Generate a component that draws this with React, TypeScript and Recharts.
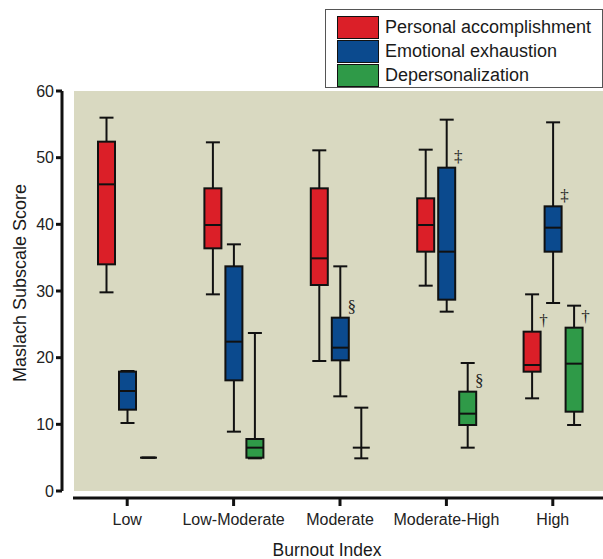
import React from "react";
import {
  ComposedChart,
  Bar,
  XAxis,
  YAxis,
  Legend,
  ReferenceArea,
  ReferenceLine,
  Label,
} from "recharts";

const categories = ["Low", "Low-Moderate", "Moderate", "Moderate-High", "High"];

// each entry: [min, q1, median, q3, max]
const personalAccomplishment = [
  [29.8, 34, 46, 52.4, 56],
  [29.5, 36.4, 39.9, 45.4, 52.3],
  [19.5, 30.9, 34.9, 45.4, 51.1],
  [30.8, 35.9, 39.9, 43.9, 51.2],
  [13.9, 17.9, 18.9, 23.9, 29.5],
];
const emotionalExhaustion = [
  [10.2, 12.2, 15, 17.9, 18],
  [8.9, 16.6, 22.4, 33.7, 37],
  [14.2, 19.6, 21.5, 26, 33.7],
  [26.9, 28.7, 35.9, 48.5, 55.7],
  [28.2, 35.9, 39.5, 42.7, 55.3],
];
const depersonalization = [
  [5, 5, 5, 5, 5],
  [4.9, 5, 6.5, 7.8, 23.7],
  [4.9, 6.5, 6.5, 6.5, 12.5],
  [6.5, 9.9, 11.6, 14.9, 19.2],
  [9.9, 11.9, 19.1, 24.5, 27.8],
];

const paMarks = ["", "", "", "", "†"];
const eeMarks = ["", "", "§", "‡", "‡"];
const dpMarks = ["", "", "", "§", "†"];

const yTicks = [0, 10, 20, 30, 40, 50, 60];

const font = '"Liberation Sans", Arial, sans-serif';
const ink = "#111";

const series = [
  { key: "pa", name: "Personal accomplishment", color: "#db1f28", boxes: personalAccomplishment, marks: paMarks },
  { key: "ee", name: "Emotional exhaustion", color: "#0b4a8e", boxes: emotionalExhaustion, marks: eeMarks },
  { key: "dp", name: "Depersonalization", color: "#2f9a48", boxes: depersonalization, marks: dpMarks },
];

const data = categories.map((name, i) => {
  const row: any = { name };
  series.forEach((s) => {
    row[s.key] = s.boxes[i][4];
    row[s.key + "Box"] = s.boxes[i];
    row[s.key + "Mark"] = s.marks[i];
  });
  return row;
});

// bar runs from 0 to max, so the box parts are placed along it
function BoxShape(props: any) {
  const { x, y, width, height, payload, boxKey, fill } = props;
  const [min, q1, med, q3, max] = payload[boxKey + "Box"];
  const mark = payload[boxKey + "Mark"];
  const base = y + height;
  const py = (v: number) => base - (height * v) / max;
  const cx = x + width / 2;
  const cap = 7;
  const top = py(q3);
  const bottom = py(q1);
  return (
    <g>
      <line x1={cx} x2={cx} y1={py(max)} y2={py(min)} stroke={ink} strokeWidth={2} />
      <line x1={cx - cap} x2={cx + cap} y1={py(max)} y2={py(max)} stroke={ink} strokeWidth={2} />
      <line x1={cx - cap} x2={cx + cap} y1={py(min)} y2={py(min)} stroke={ink} strokeWidth={2} />
      <rect x={x} y={top} width={width} height={bottom - top} fill={fill} stroke={ink} strokeWidth={2} />
      <line x1={x} x2={x + width} y1={py(med)} y2={py(med)} stroke={ink} strokeWidth={2} />
      {mark && (
        <text
          x={x + width + 3}
          y={top - 11}
          textAnchor="middle"
          dominantBaseline="central"
          fontFamily='"Liberation Serif", "Times New Roman", serif'
          fontSize={17}
          fill="#222"
        >
          {mark}
        </text>
      )}
    </g>
  );
}

function XTick(props: any) {
  const { x, y, payload } = props;
  return (
    <g>
      <line x1={x} x2={x} y1={y + 7} y2={y + 15} stroke={ink} strokeWidth={3} />
      <text x={x} y={y + 34} textAnchor="middle" fontFamily={font} fontSize={16} fill="#222">
        {payload.value}
      </text>
    </g>
  );
}

function renderLegend(props: any) {
  const order = series.map((s) => s.name);
  const items = [...(props.payload || [])].sort(
    (a: any, b: any) => order.indexOf(a.value) - order.indexOf(b.value)
  );
  return (
    <div
      style={{
        border: "1px solid #555",
        background: "#fff",
        boxSizing: "border-box",
        height: 79,
        padding: "5px 0 0 11px",
        fontFamily: font,
        fontSize: 18,
        color: "#1a1a1a",
      }}
    >
      {items.map((e: any) => (
        <div key={e.value} style={{ display: "flex", alignItems: "center", height: 24 }}>
          <span
            style={{
              display: "inline-block",
              width: 42,
              height: 23,
              background: e.color,
              border: "1.5px solid #111",
              boxSizing: "border-box",
              marginRight: 6,
            }}
          />
          <span style={{ lineHeight: "20px" }}>{e.value}</span>
        </div>
      ))}
    </div>
  );
}

export default function App() {
  return (
    <div
      style={{
        position: "absolute",
        left: 0,
        top: 0,
        width: 603,
        height: 559,
        overflow: "hidden",
        background: "#fff",
      }}
    >
      <ComposedChart
        width={606}
        height={559}
        data={data}
        margin={{ top: 91, right: 0, bottom: 0, left: 0 }}
        barSize={17}
        barGap={4}
      >
        <ReferenceArea x1="Low" x2="High" fill="#d9d9c1" fillOpacity={1} stroke="none" />
        <XAxis
          dataKey="name"
          height={68}
          padding={{ left: 12, right: 0 }}
          axisLine={false}
          tickLine={false}
          tickSize={0}
          tickMargin={0}
          interval={0}
          tick={(p: any) => <XTick {...p} />}
        >
          <Label
            content={(p: any) => {
              const vb = p.viewBox;
              return (
                <text
                  x={vb.x + vb.width / 2 - 7}
                  y={vb.y + 65}
                  textAnchor="middle"
                  fontFamily={font}
                  fontSize={17.5}
                  fill="#1a1a1a"
                >
                  Burnout Index
                </text>
              );
            }}
          />
        </XAxis>
        <YAxis
          width={62}
          domain={[0, 60]}
          ticks={yTicks}
          interval={0}
          axisLine={{ stroke: ink, strokeWidth: 3 }}
          tickLine={{ stroke: ink, strokeWidth: 3 }}
          tickSize={6}
          tickMargin={2}
          tick={{ fontFamily: font, fontSize: 16, fill: "#222" }}
        >
          <Label
            content={(p: any) => {
              const vb = p.viewBox;
              const cx = vb.x + 20;
              const cy = vb.y + vb.height / 2 - 8;
              return (
                <text
                  x={cx}
                  y={cy}
                  transform={`rotate(-90, ${cx}, ${cy})`}
                  textAnchor="middle"
                  dominantBaseline="central"
                  fontFamily={font}
                  fontSize={18}
                  fill="#1a1a1a"
                >
                  Maslach Subscale Score
                </text>
              );
            }}
          />
        </YAxis>
        <ReferenceLine
          y={0}
          shape={(p: any) => (
            <line x1={p.x1 + 11} x2={p.x2} y1={p.y1 + 7} y2={p.y2 + 7} stroke={ink} strokeWidth={3} />
          )}
        />
        {series.map((s) => (
          <Bar
            key={s.key}
            dataKey={s.key}
            name={s.name}
            fill={s.color}
            isAnimationActive={false}
            shape={(p: any) => <BoxShape {...p} boxKey={s.key} fill={s.color} />}
          />
        ))}
        <Legend
          layout="horizontal"
          verticalAlign="middle"
          align="center"
          wrapperStyle={{ left: 325, top: 9, width: 278, height: 79 }}
          content={renderLegend}
        />
      </ComposedChart>
    </div>
  );
}
